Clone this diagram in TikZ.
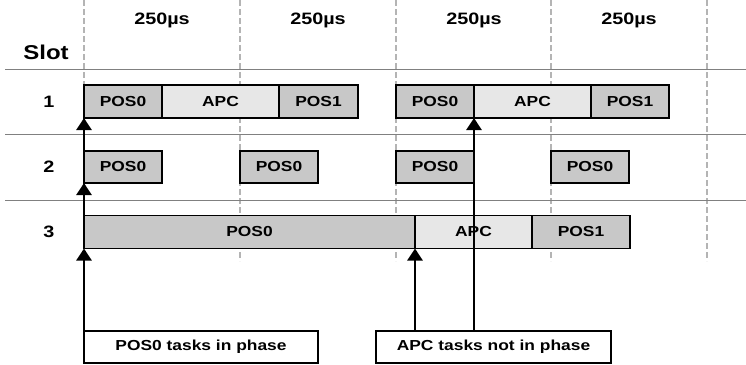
\documentclass[tikz,border=0pt]{standalone}
\usepackage{fontspec}
\newfontfamily\slotfont{Liberation Sans}[FakeStretch=1.2]
\usetikzlibrary{positioning,arrows.meta}
\definecolor{posgray}{RGB}{200,200,200}
\definecolor{apcgray}{RGB}{231,231,231}
\definecolor{gridgray}{RGB}{180,180,180}
\definecolor{rulegray}{RGB}{128,128,128}
\tikzset{
  taskbox/.style={draw, line width=1.6pt, outer sep=0pt, inner sep=0pt, minimum height=33pt,
    font={\slotfont\bfseries\fontsize{14.5}{16}\selectfont}},
  posbox/.style={taskbox, fill=posgray},
  apcbox/.style={taskbox, fill=apcgray},
  notebox/.style={taskbox, fill=white, minimum height=32pt},
  slotlabel/.style={font={\slotfont\bfseries\fontsize{16.5}{18}\selectfont}},
  conn/.style={line width=2.6pt, -{Triangle[width=15pt,length=12pt]}},
  gridline/.style={gridgray, line width=2pt, dash pattern=on 6pt off 3pt},
  sepline/.style={rulegray, line width=1pt}
}
\begin{document}
\begin{tikzpicture}[x=1pt,y=-1pt]
\useasboundingbox (0,0) rectangle (746,364);
% time grid
\foreach \x in {84,240,396,551,707}
  \draw[gridline] (\x,0) -- (\x,261);
% slot separators
\foreach \y in {69,134,200}
  \draw[sepline] (5,\y) -- (746,\y);
% header
\foreach \x in {162,318,474,629}
  \node[slotlabel] at (\x,20) {250µs};
\node[slotlabel, font={\slotfont\bfseries\fontsize{20}{22}\selectfont}] (slot) at (46,52) {Slot};
\node[slotlabel] (n1) at (49,101.5) {1};
\node[slotlabel] (n2) at (49,167) {2};
\node[slotlabel] (n3) at (49,232) {3};

% slot 1
\node[posbox, minimum width=78pt, anchor=west] (r1a) at (84,101.5) {POS0};
\node[apcbox, minimum width=117pt, right=0pt of r1a] (r1b) {APC};
\node[posbox, minimum width=79pt, right=0pt of r1b] (r1c) {POS1};
\node[posbox, minimum width=78pt, anchor=west] (r1d) at (396,101.5) {POS0};
\node[apcbox, minimum width=117pt, right=0pt of r1d] (r1e) {APC};
\node[posbox, minimum width=78pt, right=0pt of r1e] (r1f) {POS1};

% slot 2
\foreach \x/\n in {84/a,240/b,396/c,551/d}
  \node[posbox, minimum width=78pt, minimum height=32pt, anchor=west] (r2\n) at (\x,167) {POS0};

% slot 3
\node[posbox, minimum width=331pt, anchor=west] (r3a) at (84,232) {POS0};
\node[apcbox, minimum width=117pt, right=0pt of r3a] (r3b) {APC};
\node[posbox, minimum width=98pt, right=0pt of r3b] (r3c) {POS1};

% notes
\node[notebox, minimum width=234pt, anchor=north west] (b1) at (84,331) {POS0 tasks in phase};
\node[notebox, minimum width=235pt, anchor=north west] (b2) at (376,331) {APC tasks not in phase};

% POS0 in phase
\draw[conn] (b1.north west) -- (r3a.south west);
\draw[conn] (r3a.north west) -- (r2a.south west);
\draw[conn] (r2a.north west) -- (r1a.south west);
% APC not in phase
\draw[conn] (b2.north -| r3b.south west) -- (r3b.south west);
\draw[conn] (b2.north -| r1e.south west) -- (r1e.south west);
\end{tikzpicture}
\end{document}
